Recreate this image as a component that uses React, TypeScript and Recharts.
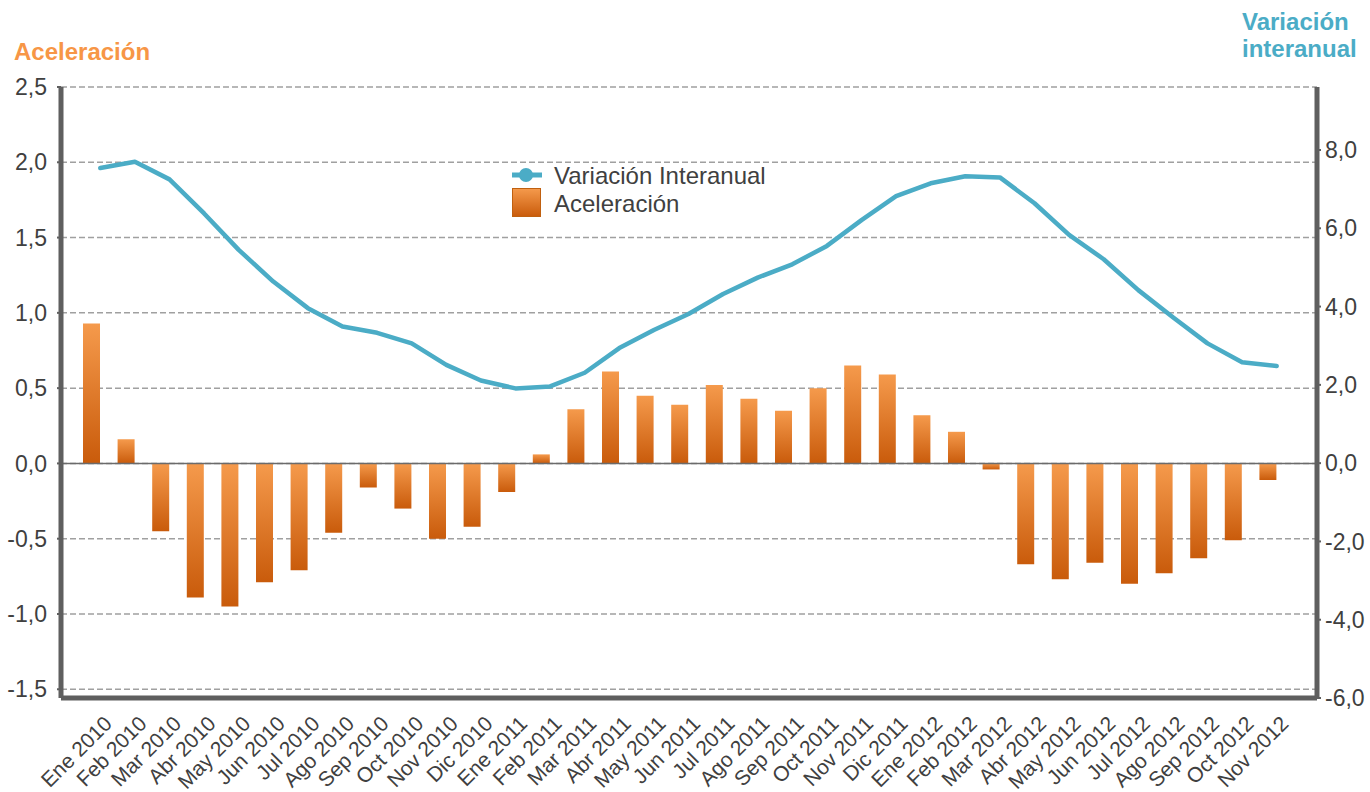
import React from "react";
import {
  ComposedChart,
  CartesianGrid,
  XAxis,
  YAxis,
  Bar,
  Line,
  Legend,
  ReferenceLine,
} from "recharts";

const months = [
  "Ene 2010", "Feb 2010", "Mar 2010", "Abr 2010", "May 2010", "Jun 2010",
  "Jul 2010", "Ago 2010", "Sep 2010", "Oct 2010", "Nov 2010", "Dic 2010",
  "Ene 2011", "Feb 2011", "Mar 2011", "Abr 2011", "May 2011", "Jun 2011",
  "Jul 2011", "Ago 2011", "Sep 2011", "Oct 2011", "Nov 2011", "Dic 2011",
  "Ene 2012", "Feb 2012", "Mar 2012", "Abr 2012", "May 2012", "Jun 2012",
  "Jul 2012", "Ago 2012", "Sep 2012", "Oct 2012", "Nov 2012",
];

const aceleracion = [
  0.93, 0.16, -0.45, -0.89, -0.95, -0.79, -0.71, -0.46, -0.16, -0.3, -0.5, -0.42,
  -0.19, 0.06, 0.36, 0.61, 0.45, 0.39, 0.52, 0.43, 0.35, 0.5, 0.65, 0.59,
  0.32, 0.21, -0.04, -0.67, -0.77, -0.66, -0.8, -0.73, -0.63, -0.51, -0.11,
];

const variacion = [
  7.54, 7.7, 7.25, 6.38, 5.45, 4.64, 3.96, 3.49, 3.33, 3.06, 2.51, 2.11,
  1.91, 1.96, 2.31, 2.94, 3.4, 3.81, 4.32, 4.74, 5.08, 5.55, 6.21, 6.82,
  7.15, 7.33, 7.3, 6.64, 5.83, 5.21, 4.42, 3.73, 3.06, 2.58, 2.48,
];

const leftTicks = [-1.5, -1, -0.5, 0, 0.5, 1, 1.5, 2, 2.5];
const rightTicks = [-6, -4, -2, 0, 2, 4, 6, 8];

const data = months.map((mes, i) => ({
  mes,
  aceleracion: aceleracion[i],
  variacion: variacion[i],
  hueco: null,
}));

const FONT = '"Liberation Sans", Arial, sans-serif';
const ORANGE = "#F79646";
const AQUA = "#4BACC6";
const TEXT = "#404040";
const AXIS = "#5f5f5f";

const fmt = (v: number) => v.toFixed(1).replace(".", ",");

function MonthTick({ x, y, payload }: any) {
  return (
    <g transform={`translate(${x + 13},${y + 27})`}>
      <text
        textAnchor="end"
        transform="rotate(-45)"
        fontSize={21}
        fontFamily={FONT}
        fill={TEXT}
      >
        {payload.value}
      </text>
    </g>
  );
}

function ChartLegend() {
  return (
    <svg width={290} height={60} style={{ display: "block" }}>
      <defs>
        <linearGradient id="legGrad" x1="0" y1="0" x2="0" y2="1">
          <stop offset="0%" stopColor="#F59A4C" />
          <stop offset="100%" stopColor="#C95B0B" />
        </linearGradient>
      </defs>
      <line x1={4} y1={12} x2={34} y2={12} stroke={AQUA} strokeWidth={5} />
      <circle cx={18} cy={12} r={7} fill={AQUA} />
      <text x={46} y={21} fontSize={24} fontFamily={FONT} fill={TEXT}>
        Variación Interanual
      </text>
      <rect x={4.5} y={25.5} width={28} height={28} fill="url(#legGrad)" stroke="#C0600F" />
      <text x={46} y={48.7} fontSize={24} fontFamily={FONT} fill={TEXT}>
        Aceleración
      </text>
    </svg>
  );
}

export default function App() {
  return (
    <div style={{ position: "relative", width: 1370, height: 792, fontFamily: FONT }}>
      <style>{"body{margin:0;overflow:hidden}"}</style>
      <div
        style={{
          position: "absolute",
          left: 14,
          top: 40,
          fontSize: 24,
          lineHeight: "24px",
          fontWeight: "bold",
          color: ORANGE,
        }}
      >
        Aceleración
      </div>
      <div
        style={{
          position: "absolute",
          left: 1242,
          top: 8,
          fontSize: 24,
          lineHeight: "27px",
          fontWeight: "bold",
          color: AQUA,
        }}
      >
        Variación
        <br />
        interanual
      </div>
      <ComposedChart
        width={1370}
        height={792}
        data={data}
        margin={{ top: 87, right: 4, bottom: 4, left: 12 }}
        barGap={0}
      >
        <defs>
          <linearGradient id="barGrad" x1="0" y1="0" x2="0" y2="1">
            <stop offset="0%" stopColor="#F59A4C" />
            <stop offset="100%" stopColor="#C95B0B" />
          </linearGradient>
        </defs>
        <CartesianGrid
          yAxisId="left"
          vertical={false}
          stroke="#a0a0a0"
          strokeWidth={1.5}
          strokeDasharray="6 3"
        />
        <XAxis
          dataKey="mes"
          interval={0}
          height={90}
          padding={{ left: 22, right: 23 }}
          axisLine={{ stroke: AXIS, strokeWidth: 5 }}
          tickLine={false}
          tickSize={0}
          tickMargin={0}
          tick={<MonthTick />}
        />
        <YAxis
          yAxisId="left"
          orientation="left"
          width={49}
          domain={[-1.558, 2.5]}
          allowDataOverflow
          ticks={leftTicks}
          tickFormatter={fmt}
          axisLine={{ stroke: AXIS, strokeWidth: 5 }}
          tickLine={{ stroke: AXIS, strokeWidth: 2 }}
          tickSize={4}
          tickMargin={10}
          tick={{ fontSize: 23, fill: TEXT, fontFamily: FONT }}
        />
        <YAxis
          yAxisId="right"
          orientation="right"
          width={49}
          domain={[-6, 9.61]}
          allowDataOverflow
          ticks={rightTicks}
          tickFormatter={fmt}
          axisLine={{ stroke: AXIS, strokeWidth: 5 }}
          tickLine={{ stroke: AXIS, strokeWidth: 2 }}
          tickSize={4}
          tickMargin={4}
          tick={{ fontSize: 23, fill: TEXT, fontFamily: FONT, textAnchor: "start" }}
        />
        <ReferenceLine yAxisId="left" y={0} stroke="#6b6b6b" strokeWidth={1.5} />
        <Bar
          yAxisId="left"
          dataKey="aceleracion"
          name="Aceleración"
          fill="url(#barGrad)"
          barSize={17}
          isAnimationActive={false}
        />
        <Bar
          yAxisId="left"
          dataKey="hueco"
          fill="transparent"
          barSize={17}
          legendType="none"
          isAnimationActive={false}
        />
        <Line
          yAxisId="right"
          type="linear"
          dataKey="variacion"
          name="Variación Interanual"
          stroke={AQUA}
          strokeWidth={4.5}
          strokeLinecap="round"
          strokeLinejoin="round"
          dot={false}
          activeDot={false}
          isAnimationActive={false}
        />
        <Legend
          layout="horizontal"
          verticalAlign="middle"
          align="center"
          content={() => <ChartLegend />}
          wrapperStyle={{ left: 508, top: 163, width: 290, height: 60 }}
        />
      </ComposedChart>
    </div>
  );
}
